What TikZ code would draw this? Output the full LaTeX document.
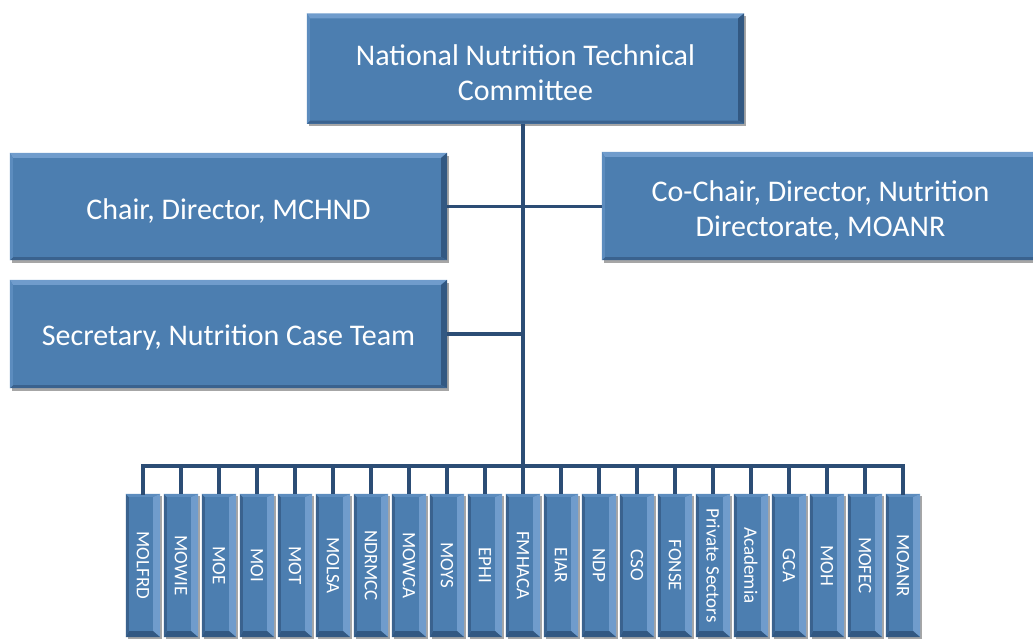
\documentclass[tikz,border=0pt]{standalone}
\usepackage{fontspec}
\usepackage{graphicx}
\setmainfont{Carlito}
\usetikzlibrary{shadows}
\definecolor{boxfill}{RGB}{76,126,176}
\definecolor{bevlight}{RGB}{112,156,204}
\definecolor{bevleft}{RGB}{92,140,190}
\definecolor{bevdark}{RGB}{50,88,130}
\definecolor{bevdarkb}{RGB}{58,98,142}
\definecolor{linecol}{RGB}{44,77,117}
\tikzset{
  bigbox/.style={fill=boxfill, inner sep=0pt, minimum width=437pt,
    drop shadow={shadow xshift=1.5pt, shadow yshift=-2.5pt, opacity=0.35, fill=black}},
  bigtext/.style={text=white, align=center, inner sep=0pt, yshift=-4pt,
    font=\fontsize{30}{35}\selectfont},
  nbox/.style={fill=boxfill, text=white, inner sep=0pt,
    minimum width=34pt, minimum height=143pt, font=\fontsize{19}{22}\selectfont,
    drop shadow={shadow xshift=1.5pt, shadow yshift=-1.5pt, opacity=0.35, fill=black}},
  conn/.style={draw=linecol, line width=3.2pt}
}
\newcommand\bevH[1]{%
  \fill[bevlight] (#1.north west) -- (#1.north east) -- ([xshift=-6pt,yshift=-5pt]#1.north east) -- ([xshift=3pt,yshift=-5pt]#1.north west) -- cycle;
  \fill[bevdark] (#1.north east) -- (#1.south east) -- ([xshift=-6pt,yshift=3pt]#1.south east) -- ([xshift=-6pt,yshift=-5pt]#1.north east) -- cycle;
  \fill[bevdarkb] (#1.south west) -- (#1.south east) -- ([xshift=-6pt,yshift=3pt]#1.south east) -- ([xshift=3pt,yshift=3pt]#1.south west) -- cycle;
  \fill[bevleft] (#1.north west) -- (#1.south west) -- ([xshift=3pt,yshift=3pt]#1.south west) -- ([xshift=3pt,yshift=-5pt]#1.north west) -- cycle;
}
\newcommand\bevV[1]{%
  \fill[bevlight] (#1.north east) -- (#1.south east) -- ([xshift=-7pt,yshift=6pt]#1.south east) -- ([xshift=-7pt,yshift=-3pt]#1.north east) -- cycle;
  \fill[bevdark] (#1.south west) -- (#1.south east) -- ([xshift=-7pt,yshift=6pt]#1.south east) -- ([xshift=3pt,yshift=6pt]#1.south west) -- cycle;
  \fill[bevdarkb] (#1.north west) -- (#1.south west) -- ([xshift=3pt,yshift=6pt]#1.south west) -- ([xshift=3pt,yshift=-3pt]#1.north west) -- cycle;
  \fill[bevleft] (#1.north west) -- (#1.north east) -- ([xshift=-7pt,yshift=-3pt]#1.north east) -- ([xshift=3pt,yshift=-3pt]#1.north west) -- cycle;
}
\begin{document}
\begin{tikzpicture}[x=1pt,y=-1pt]
\useasboundingbox (0,0) rectangle (1033,638);
\clip (0,0) rectangle (1033,638);
% main boxes
\node[bigbox, minimum height=110pt, label={[bigtext]center:National Nutrition Technical\\Committee}] (top) at (525.5,68.5) {};
\bevH{top}
\node[bigbox, minimum height=107pt, label={[bigtext]center:Chair, Director, MCHND}] (chair) at (228.5,206.5) {};
\bevH{chair}
\node[bigbox, minimum height=108pt, label={[bigtext]center:Secretary, Nutrition Case Team}] (sec) at (228.5,334) {};
\bevH{sec}
\node[bigbox, minimum height=108pt, label={[bigtext]center:Co-Chair, Director, Nutrition\\Directorate, MOANR}] (cochair) at (820.5,206) {};
\bevH{cochair}
% member boxes
\foreach [count=\i from 0] \t in {MOLFRD,MOWIE,MOE,MOI,MOT,MOLSA,NDRMCC,MOWCA,MOYS,EPHI,FMHACA,EIAR,NDP,CSO,FONSE,Private Sectors,Academia,GCA,MOH,MOFEC,MOANR}{
  \node[nbox] (b\i) at ({143+38*\i},565.5) {\rotatebox{-90}{\t}};
  \bevV{b\i}
}
\coordinate (bus) at (523,466);
% connectors
\draw[conn] (top.south -| b10.north) -- (b10.north);
\draw[conn] (chair.east) -- (cochair.west |- chair.east);
\draw[conn] (sec.east) -- (sec.east -| b10.north);
\draw[conn, line cap=rect] (b0.north) |- (b20.north |- bus) -- (b20.north);
\foreach \i in {1,...,19}{
  \draw[conn] (b\i.north) -- (b\i.north |- bus);
}
\end{tikzpicture}
\end{document}
